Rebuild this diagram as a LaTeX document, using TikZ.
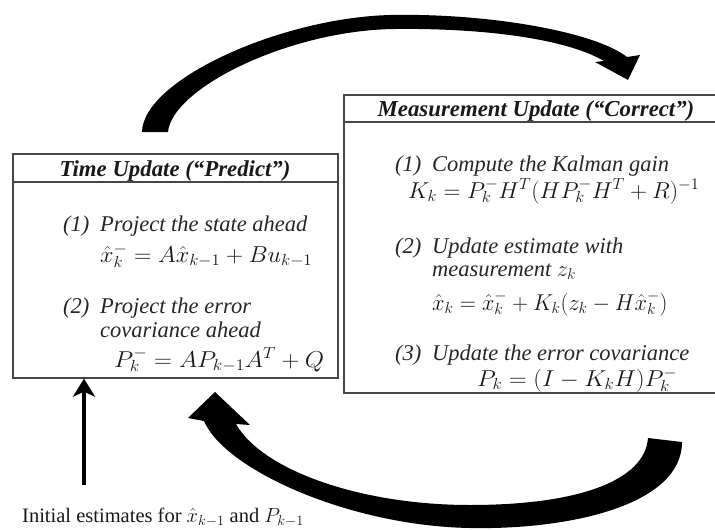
\RequirePackage{fix-cm}
\documentclass[tikz,border=0pt]{standalone}
\usepackage{fontspec}
\usepackage{graphicx}
\setmainfont{Liberation Serif}
\usetikzlibrary{arrows.meta}
\newcommand{\wideeq}[2]{\scalebox{#1}[1]{$#2$}}
\begin{document}
\begin{tikzpicture}[x=1pt,y=-1pt,
  boxline/.style={draw=black!72, line width=1.3pt, inner sep=0pt},
  itemtext/.style={anchor=base west, inner sep=0pt, text=black!85, font=\fontsize{22.5}{26}\selectfont\itshape},
  mathtext/.style={anchor=base west, inner sep=0pt, text=black!90, font=\fontsize{23}{27}\selectfont},
  headtext/.style={anchor=base, inner sep=0pt, text=black!90, font=\fontsize{22.8}{26}\selectfont\bfseries\itshape},
  bigarrow/.style={fill=black, draw=none}]
\useasboundingbox (0,0) rectangle (715,530);

% boxes
\node[boxline, minimum width=325pt, minimum height=224pt] (lbox) at (175.5,266) {};
\node[boxline, minimum width=372pt, minimum height=298pt] (rbox) at (530,244) {};
\coordinate (lhl) at (0,182);
\coordinate (rhl) at (0,122);
\draw[boxline] (lbox.west |- lhl) -- (lbox.east |- lhl);
\draw[boxline] (rbox.west |- rhl) -- (rbox.east |- rhl);

% left box text
\node[headtext] (lhead) at (175,176.5) {Time Update (“Predict”)};
\node[itemtext] (l1) at (63,231.5) {\makebox[37pt][l]{(1)}Project the state ahead};
\node[mathtext] (l1m) at (100,262.5) {\wideeq{1.05}{\hat{x}_k^- = A\hat{x}_{k-1} + Bu_{k-1}}};
\node[itemtext] (l2) at (63,313) {\makebox[37pt][l]{(2)}Project the error};
\node[itemtext] (l2b) at (100,337) {covariance ahead};
\node[mathtext] (l2m) at (114,367) {\wideeq{1.08}{P_k^- = AP_{k-1}A^T + Q}};

% right box text
\node[headtext] (rhead) at (536,116.5) {Measurement Update (“Correct”)};
\node[itemtext] (r1) at (395,171.5) {\makebox[37pt][l]{(1)}Compute the Kalman gain};
\node[mathtext] (r1m) at (408,198) {\wideeq{1.02}{K_k = P_k^- H^T(HP_k^- H^T + R)^{-1}}};
\node[itemtext] (r2) at (395,253) {\makebox[37pt][l]{(2)}Update estimate with};
\node[itemtext] (r2b) at (432,276.5) {measurement $z_k$};
\node[mathtext] (r2m) at (432,310) {\wideeq{0.97}{\hat{x}_k = \hat{x}_k^- + K_k(z_k - H\hat{x}_k^-)}};
\node[itemtext] (r3) at (395,360) {\makebox[37pt][l]{(3)}Update the error covariance};
\node[mathtext] (r3m) at (477,386.5) {\wideeq{1.06}{P_k = (I - K_kH)P_k^-}};

% initial estimates
\node[anchor=base west, inner sep=0pt, text=black!90, font=\fontsize{20.5}{24}\selectfont] (init) at (22,522) {Initial estimates for $\hat{x}_{k-1}$ and $P_{k-1}$};
\coordinate (istart) at (84,485);
\draw[line width=4pt, -{Stealth[length=18pt,width=22pt,inset=5pt]}] (istart) -- (istart |- lbox.south);

% top curved arrow
\fill[bigarrow] (142,132) .. controls (143,80) and (280,18) .. (390,15)
  .. controls (490,13) and (595,32) .. (627,57) -- (640,55) -- (628,80) -- (595,62) -- (604,61)
  .. controls (565,38) and (480,28) .. (395,29)
  .. controls (290,30) and (172,88) .. (168,132) -- cycle;

% bottom curved arrow
\fill[bigarrow] (682,442) .. controls (682,505) and (570,530) .. (470,528)
  .. controls (350,526) and (225,470) .. (204,421) -- (188,418) -- (215,392) -- (250,425) -- (236,424)
  .. controls (262,470) and (360,505) .. (470,505)
  .. controls (580,505) and (645,480) .. (648,438) -- cycle;
\end{tikzpicture}
\end{document}
